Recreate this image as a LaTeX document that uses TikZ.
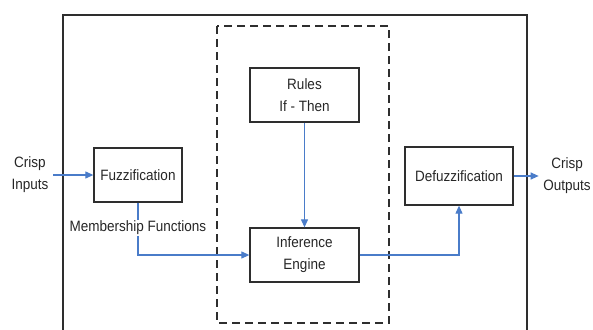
\documentclass[tikz,border=0pt]{standalone}
\usepackage{fontspec}
\setmainfont{Liberation Sans}[FakeStretch=0.9]
\usetikzlibrary{arrows.meta}
\definecolor{arrowblue}{HTML}{4A7CC9}
\definecolor{boxgray}{HTML}{2E2E2E}
\definecolor{txtgray}{HTML}{262626}
\begin{document}
\begin{tikzpicture}[x=1pt,y=-1pt,
  every node/.style={font=\fontsize{15}{22}\selectfont, text=txtgray},
  blockbox/.style={draw=boxgray, line width=1.3pt, minimum height=54pt, align=center, inner sep=0pt},
  flow/.style={draw=arrowblue, line width=1.1pt, -{Triangle[length=8pt,width=7pt]}},
  plainlab/.style={align=center, inner sep=4.5pt}
]
\useasboundingbox (0,0) rectangle (593,329);
% outer frame (open at bottom)
\draw[boxgray, line width=1.5pt] (63,335) -- (63,15) -- (527,15) -- (527,335);
% dashed frame
\draw[boxgray, line width=1.3pt, dash pattern=on 8pt off 5pt] (217,26) rectangle (389,323);
% blocks
\node[blockbox, minimum width=88pt] (fuzz) at (138,175) {Fuzzification};
\node[blockbox, minimum width=109pt] (rules) at (304.5,95) {Rules\\If - Then};
\node[blockbox, minimum width=109pt] (inf) at (304.5,255) {Inference\\Engine};
\node[blockbox, minimum width=108pt, minimum height=58pt] (defuzz) at (459,176) {Defuzzification};
\node[plainlab] (in) at (30,175) {Crisp\\Inputs};
\node[plainlab] (out) at (567,176) {Crisp\\Outputs};
% connectors
\draw[flow] (in) -- (fuzz);
\draw[flow] (fuzz.south) |- (inf.west);
\draw[flow] (rules) -- (inf);
\draw[flow] (inf.east) -| (defuzz.south);
\draw[flow] (defuzz) -- (out);
\node[fill=white, inner sep=1pt] (mf) at (138,228) {Membership Functions};
\end{tikzpicture}
\end{document}
